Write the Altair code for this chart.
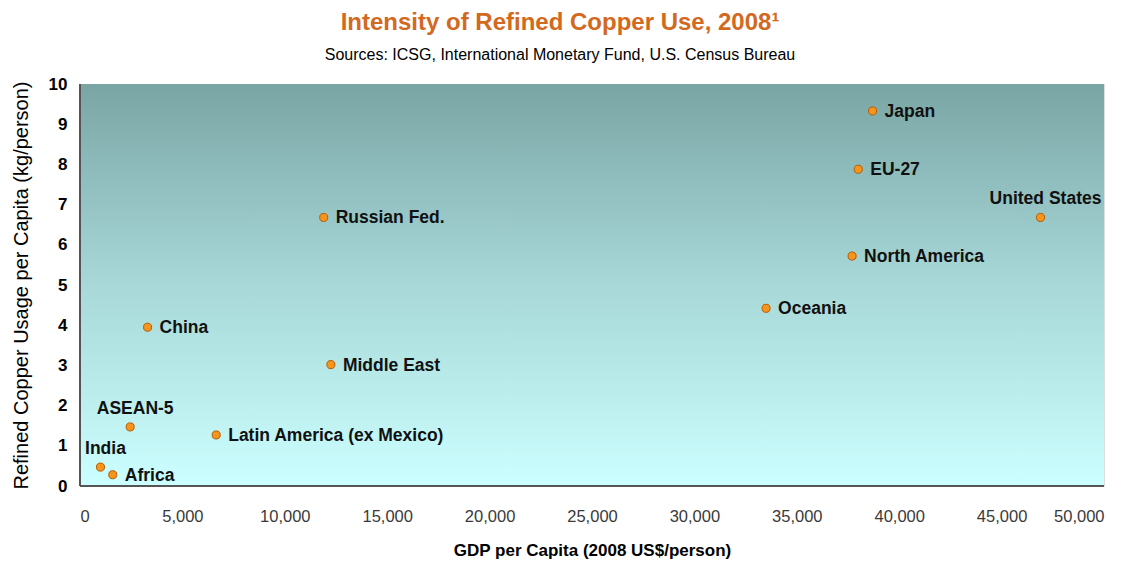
import altair as alt
import pandas as pd

regions = ["India", "Africa", "ASEAN-5", "China", "Latin America (ex Mexico)",
           "Russian Fed.", "Middle East", "Oceania", "North America", "EU-27",
           "Japan", "United States"]
gdp = [1000, 1600, 2450, 3300, 6650, 11900, 12250, 33500, 37700, 38000, 38700, 46900]
usage = [0.47, 0.28, 1.47, 3.95, 1.27, 6.68, 3.02, 4.42, 5.72, 7.88, 9.33, 6.68]
label_side = ["above", "right", "above", "right", "right", "right", "right",
              "right", "right", "right", "right", "above"]

df = pd.DataFrame({"region": regions, "gdp": gdp, "usage": usage, "side": label_side})

W, H = 1024, 402
FONT = "Liberation Sans"

xs = alt.Scale(domain=[0, 50000], nice=False)
ys = alt.Scale(domain=[0, 10], nice=False)

bg = alt.Chart(pd.DataFrame({"a": [0]})).mark_rect(
    fill=alt.Gradient(gradient="linear", x1=0, x2=0, y1=0, y2=1,
                      stops=[alt.GradientStop(color="#7aa5a5", offset=0),
                             alt.GradientStop(color="#a8d8d8", offset=0.5),
                             alt.GradientStop(color="#ccffff", offset=1)]),
).encode(x=alt.value(0), x2=alt.value(W), y=alt.value(0), y2=alt.value(H))

frame_l = alt.Chart(pd.DataFrame({"a": [0]})).mark_rule(color="#555555", strokeWidth=2).encode(
    x=alt.value(0), y=alt.value(0), y2=alt.value(H))
frame_b = alt.Chart(pd.DataFrame({"a": [0]})).mark_rule(color="#555555", strokeWidth=2).encode(
    x=alt.value(0), x2=alt.value(W), y=alt.value(H))

base = alt.Chart(df)

points = base.mark_point(filled=True, size=65, fill="#f7941d", stroke="#b85a00",
                         strokeWidth=1, opacity=1).encode(
    x=alt.X("gdp:Q", scale=xs,
            axis=alt.Axis(title="GDP per Capita (2008 US$/person)",
                          labelExpr="format(datum.value, ',.0f')",
                          values=list(range(0, 50001, 5000)), ticks=False, grid=False,
                          domain=False, labelPadding=22, labelFontSize=16.5,
                          labelColor="#3a3a3a", labelFont=FONT, titleFont=FONT,
                          titleFontSize=17, titleFontWeight="bold", titleColor="#000000",
                          titlePadding=18)),
    y=alt.Y("usage:Q", scale=ys,
            axis=alt.Axis(title="Refined Copper Usage per Capita (kg/person)",
                          values=list(range(0, 11)), ticks=False, grid=False,
                          domain=False, labelPadding=13, labelFontSize=17,
                          labelFontWeight="bold", labelColor="#000000", labelFont=FONT,
                          titleFont=FONT, titleFontSize=20, titleFontWeight="normal",
                          titleColor="#000000", titlePadding=17)),
)

right_labels = base.transform_filter(alt.datum.side == "right").mark_text(
    align="left", baseline="middle", dx=12, dy=1, font=FONT, fontSize=17.5,
    fontWeight="bold", color="#111111").encode(
    x=alt.X("gdp:Q", scale=xs), y=alt.Y("usage:Q", scale=ys), text="region:N")

above_labels = base.transform_filter(alt.datum.side == "above").mark_text(
    align="center", baseline="bottom", dx=5, dy=-9, font=FONT, fontSize=17.5,
    fontWeight="bold", color="#111111").encode(
    x=alt.X("gdp:Q", scale=xs), y=alt.Y("usage:Q", scale=ys), text="region:N")

chart = alt.layer(bg, frame_l, frame_b, points, right_labels, above_labels).properties(
    width=W, height=H,
    title=alt.TitleParams(
        text="Intensity of Refined Copper Use, 2008¹",
        subtitle="Sources: ICSG, International Monetary Fund, U.S. Census Bureau",
        font=FONT, fontSize=24, fontWeight="bold", color="#d2691e",
        subtitleFont=FONT, subtitleFontSize=16, subtitleColor="#000000",
        subtitlePadding=12, anchor="middle", dx=-32, offset=12),
    padding={"left": 80, "top": 84, "right": 39, "bottom": 77},
    autosize=alt.AutoSizeParams(type="none"),
).configure_view(stroke=None).configure(background="#ffffff")

chart.save("out.html", embed_options={"renderer": "svg", "actions": False})
